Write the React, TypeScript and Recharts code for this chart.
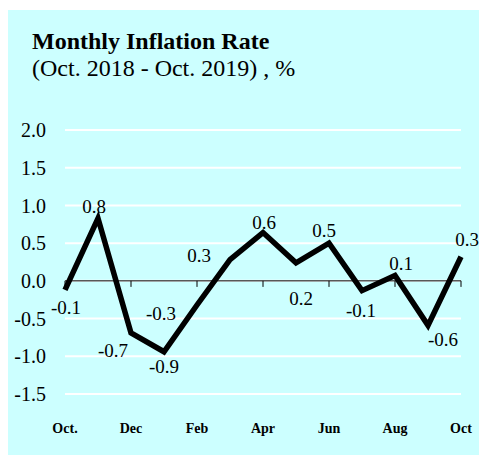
import { LineChart, Line, XAxis, YAxis, CartesianGrid, ReferenceLine } from 'recharts';

const SERIF = '"Liberation Serif", "Times New Roman", Times, serif';

const months = ['Oct.', 'Nov', 'Dec', 'Jan', 'Feb', 'Mar', 'Apr', 'May', 'Jun', 'Jul', 'Aug', 'Sep', 'Oct'];
const rates = [-0.12, 0.83, -0.69, -0.94, -0.32, 0.28, 0.64, 0.24, 0.5, -0.13, 0.07, -0.59, 0.32];
const yTicks = [-1.5, -1, -0.5, 0, 0.5, 1, 1.5, 2];
const tickedMonths = ['Oct.', 'Dec', 'Feb', 'Apr', 'Jun', 'Aug', 'Oct'];

// where each value label sits relative to its point (px)
const labelNudge: [number, number][] = [
    [1, 18], [-4, -11], [-18, 18], [0, 15], [-36, 9], [-31, -4], [1, -10],
    [5, 36], [-5, -12], [-1, 20], [6, -12], [15, 15], [6, -17],
];

const data = months.map((m, i) => ({ month: m, rate: rates[i] }));

const MonthTick = ({ x, y, payload }: any) => (
    <text x={x} y={y + 39} textAnchor="middle" fontSize={14} fontWeight="bold" fontFamily={SERIF} fill="#000">
        {payload.value}
    </text>
);

const RateLabel = (props: any) => {
    const { x, y, index, value } = props;
    const [dx, dy] = labelNudge[index] || [0, -10];
    return (
        <text x={x + dx} y={y + dy + 6} textAnchor="middle" fontSize={19} fontFamily={SERIF} fill="#000">
            {Number(value).toFixed(1)}
        </text>
    );
};

export default function App() {
    return (
        <>
            <style>{'body{margin:0;overflow:hidden}'}</style>
            <div style={{ position: 'relative', marginLeft: 8, marginTop: 10, width: 471, height: 445, background: '#ccffff' }}>
                <svg width={471} height={90} style={{ position: 'absolute', left: 0, top: 0, pointerEvents: 'none' }}>
                    <text x={24} y={39} fontSize={24} fontWeight="bold" fontFamily={SERIF} fill="#000">Monthly Inflation Rate</text>
                    <text x={24} y={66} fontSize={24} fontFamily={SERIF} fill="#000">(Oct. 2018 - Oct. 2019) , %</text>
                </svg>
                <LineChart width={471} height={445} data={data} margin={{ top: 120, right: 18, bottom: 0, left: 0 }}>
                    <CartesianGrid vertical={false} stroke="#ffffff" strokeWidth={2} />
                    <XAxis
                        dataKey="month"
                        interval={1}
                        height={61}
                        axisLine={false}
                        tickLine={false}
                        tickSize={0}
                        tickMargin={0}
                        tick={<MonthTick />}
                    />
                    <YAxis
                        domain={[-1.5, 2]}
                        ticks={yTicks}
                        width={57}
                        axisLine={false}
                        tickLine={false}
                        tickSize={0}
                        tickMargin={19}
                        tickFormatter={(v: number) => v.toFixed(1)}
                        tick={{ fontSize: 20, fontFamily: SERIF, fill: '#000' }}
                    />
                    <ReferenceLine y={0} stroke="#000" strokeWidth={1} />
                    {tickedMonths.map((m) => (
                        <ReferenceLine key={m} segment={[{ x: m, y: 0 }, { x: m, y: -0.08 }]} stroke="#000" strokeWidth={1} />
                    ))}
                    <Line
                        type="linear"
                        dataKey="rate"
                        stroke="#000"
                        strokeWidth={5.5}
                        strokeLinejoin="miter"
                        dot={false}
                        activeDot={false}
                        label={RateLabel}
                        isAnimationActive={false}
                    />
                </LineChart>
            </div>
        </>
    );
}
